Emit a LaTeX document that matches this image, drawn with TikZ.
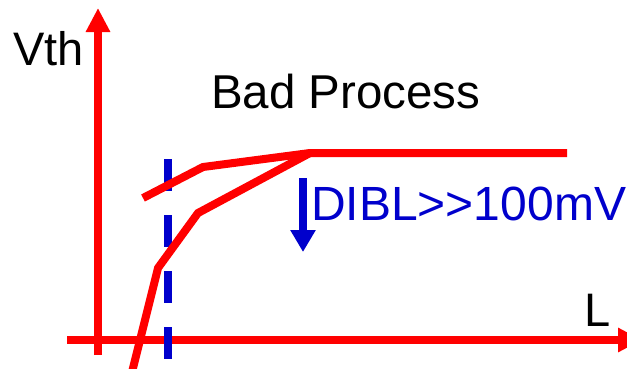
\documentclass[tikz,border=0pt]{standalone}
\usepackage{fontspec}
\setmainfont{Liberation Sans}
\usepackage{xcolor}
\usetikzlibrary{arrows.meta}
\definecolor{curvered}{RGB}{255,0,0}
\definecolor{diblblue}{RGB}{0,0,204}
\def\axisStroke{8.5pt}
\def\curveStroke{8pt}
\def\markStroke{7.5pt}

\begin{document}
\begin{tikzpicture}[x=1pt, y=-1pt,
  every node/.style={inner sep=0pt, anchor=base west, font=\fontsize{47}{56}\selectfont},
  axisline/.style={curvered, line width=\axisStroke, -{Triangle[width=23pt,length=24pt]}},
  curveline/.style={curvered, line width=\curveStroke, line join=miter},
  markline/.style={diblblue, line width=\markStroke, dash pattern=on 32pt off 24pt}]

% Frame of the picture
\useasboundingbox (0,0) rectangle (627,368);

% Axes
\coordinate (yfoot) at (98,355);
\coordinate (ytip) at (98,8);
\coordinate (xfoot) at (67,340);
\coordinate (xtip) at (642,340);
\draw[axisline] (yfoot) -- (ytip);
\draw[axisline] (xfoot) -- (xtip);

% Axis labels
\node (vth) at (13,65) {Vth};
\node (len) at (584,326) {L};

% Dashed reference length
\coordinate (dashtop) at (168,159);
\coordinate (dashbot) at (168,359);
\draw[markline] (dashtop) -- (dashbot);

% Vth roll-off curves
\coordinate (flat) at (310,153);
\coordinate (flatend) at (567,153);
\draw[curveline] (143,198) -- (203,167) -- (flat) -- (flatend);
\draw[curveline] (130,380) -- (158,268) -- (198,213) -- (flat);

% Title
\node[font=\fontsize{47.5}{56}\selectfont] (title) at (211,108) {Bad Process};

% DIBL shift
\coordinate (dibltop) at (303,178);
\coordinate (diblbot) at (303,252);
\draw[diblblue, line width=\markStroke, -{Triangle[width=24pt,length=22pt]}] (dibltop) -- (diblbot);
\node[text=diblblue, font=\fontsize{48}{58}\selectfont] (dibl) at (311,220) {DIBL>{}>100mV};

\end{tikzpicture}
\end{document}
